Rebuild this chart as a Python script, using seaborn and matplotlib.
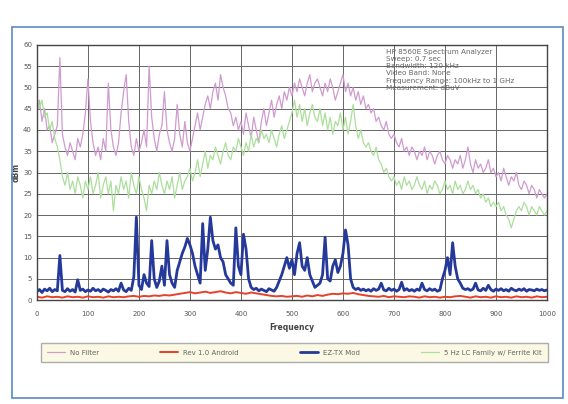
import seaborn as sns
import numpy as np
import pandas as pd
import matplotlib.pyplot as plt
from matplotlib.patches import Rectangle

# frequency axis (MHz)
freq_5 = np.arange(0, 1001, 5)
freq_10 = np.arange(0, 1001, 10)

no_filter = [
    44, 47, 42, 45, 40, 41, 37, 39, 41, 57,
    39, 36, 34, 37, 35, 33, 38, 36, 39, 44,
    52, 42, 37, 34, 36, 33, 38, 35, 51, 40,
    36, 34, 37, 44, 49, 53, 42, 36, 34, 38,
    35, 37, 40, 36, 55, 43, 38, 35, 39, 41,
    49, 40, 37, 35, 38, 46, 39, 36, 42, 37,
    35, 38, 41, 44, 40, 43, 46, 48, 45, 49,
    51, 47, 53, 50, 48, 45, 44, 41, 43, 40,
    42, 39, 44, 41, 38, 43, 40, 37, 42, 45,
    41, 44, 47, 43, 46, 48, 45, 49, 47, 50,
    48, 51, 49, 52, 50, 48, 51, 53, 49, 51,
    52, 50, 48, 51, 49, 52, 50, 47, 49, 51,
    53, 49, 51, 48, 50, 47, 49, 46, 48, 45,
    46, 44, 45, 42, 43, 41, 40, 42, 39, 38,
    39, 37, 36, 38, 35, 36, 34, 36, 35, 33,
    35, 34, 36, 33, 35, 34, 32, 34, 35, 33,
    32, 34, 33, 31, 33, 32, 34, 31, 33, 36,
    32, 30, 33, 31, 32, 30, 31, 33, 30, 31,
    29, 30, 28, 31, 29, 27, 29, 28, 30, 27,
    26, 28, 27, 25, 27, 26, 24, 26, 25, 24,
    25,
]

lc_family = [
    48, 45, 47, 43, 44, 40, 42, 38, 36, 33,
    29, 27, 30, 26, 28, 25, 29, 27, 24, 28,
    26, 29, 25, 27, 30, 24, 27, 29, 25, 28,
    21, 27, 25, 29, 26, 28, 24, 30, 27, 25,
    29, 26, 24, 21, 27, 25, 28, 26, 30, 27,
    25, 28, 26, 29, 24, 27, 30, 26, 28, 29,
    31, 28, 30, 33, 29, 32, 35, 31, 34, 33,
    36, 34, 32, 35, 37, 34, 33, 36, 35, 38,
    36, 34, 37, 35, 39, 36, 38, 37, 40, 38,
    39, 37, 40, 38, 36, 39, 41, 38, 40, 42,
    44, 47, 43, 46, 42, 45, 41, 44, 46, 43,
    42, 45, 41, 44, 40, 43, 39, 42, 41, 44,
    40, 43, 39, 42, 46, 41, 38, 40, 37, 36,
    37, 35, 34, 36, 33, 32, 30, 31, 29, 28,
    29, 27, 28, 26, 29, 27, 28, 26, 27, 29,
    27, 26, 28, 25, 27, 26, 28, 27, 25, 26,
    28, 26, 27, 25, 28, 26, 27, 25, 26, 28,
    26, 27, 25, 26, 24, 25, 23, 24, 22, 23,
    22, 23, 21, 22, 20, 19, 17, 19, 21, 22,
    21, 23, 22, 20, 22, 21, 20, 22, 21, 20,
    21,
]

ez_mod = [
    2.0, 2.5, 1.8, 2.6, 2.2, 2.8, 2.0, 2.5, 2.2, 10.5,
    2.3, 2.0, 2.7, 2.1, 2.5, 1.9, 4.8, 2.3, 2.6, 2.0,
    2.4, 2.1, 2.8, 2.2, 2.5, 2.0, 2.6, 2.3, 1.9, 2.5,
    2.2, 2.7, 2.1, 4.0, 2.4, 2.0, 2.8, 2.3, 5.5, 19.5,
    3.5, 2.5, 6.0, 4.0, 3.2, 14.0, 5.0, 3.0, 4.5, 8.0,
    3.5, 14.0, 6.0, 4.0, 3.0, 7.0, 9.0, 11.0, 12.5, 14.5,
    13.0, 11.0, 8.0, 6.0, 4.0, 18.0, 7.0, 12.0, 19.5, 14.0,
    12.0, 13.0, 10.0, 9.0, 6.0, 5.0, 4.0, 3.5, 17.0, 8.0,
    6.0, 15.5, 12.0, 5.0, 3.0, 2.5, 2.8, 2.2, 2.6, 2.3,
    2.0, 2.7, 2.4, 2.1, 3.0, 4.5, 6.0, 8.0, 10.0, 7.5,
    9.5, 6.0, 11.0, 13.5, 8.0, 7.0, 10.0, 6.0, 4.5, 3.0,
    3.5, 4.0, 6.0, 14.8, 5.0, 4.5, 8.0, 9.5, 6.5, 8.0,
    11.0, 16.5, 13.0, 5.0, 3.0, 2.5, 2.8, 2.3, 2.6, 2.2,
    2.5, 2.1, 2.7, 2.3, 2.6, 4.0, 2.4, 2.2, 2.8, 2.3,
    2.6, 2.1, 2.5, 4.2, 2.3, 2.7, 2.2, 2.5, 2.1, 2.6,
    2.3, 4.0, 2.5, 2.2, 2.7, 2.3, 2.6, 2.1, 2.4, 5.0,
    7.0, 10.0, 6.0, 13.5, 8.0, 5.0, 4.0, 2.8, 2.5, 2.7,
    2.3, 2.6, 4.0, 2.4, 2.2, 2.8, 2.3, 3.5, 2.5, 2.1,
    2.6, 2.3, 2.7, 2.2, 2.5, 2.1, 2.8, 2.4, 2.2, 2.6,
    2.3, 2.7, 2.1, 2.5, 2.4, 2.2, 2.6, 2.3, 2.5, 2.2,
    2.4,
]

rev1 = [
    0.8, 0.6, 0.9, 0.7, 0.8, 0.6, 0.9, 0.7, 0.8, 0.6,
    0.9, 0.7, 0.8, 0.6, 0.9, 0.7, 0.8, 0.7, 0.9, 1.0,
    0.8, 1.0, 0.9, 1.1, 1.0, 1.2, 1.1, 1.3, 1.5, 1.7,
    1.9, 1.6, 1.8, 2.0, 1.7, 1.9, 2.1, 1.8, 1.6, 1.9,
    1.7, 1.5, 1.8, 1.6, 1.4, 1.2, 1.0, 0.9, 1.0, 0.8,
    0.9, 1.0, 0.8, 1.1, 0.9, 1.2, 1.0, 1.3, 1.5, 1.4,
    1.6, 1.5, 1.7, 1.4, 1.2, 1.0, 0.9, 0.8, 1.0, 0.7,
    0.9, 0.8, 0.7, 0.9, 0.8, 0.6, 0.9, 0.7, 0.8, 0.6,
    0.8, 0.7, 0.9, 1.0, 0.8, 0.6, 0.9, 0.7, 0.8, 0.6,
    0.9, 0.7, 0.8, 0.6, 0.9, 0.7, 0.8, 0.6, 0.9, 0.7,
    0.8,
]

series_names = ["No Filter", "Rev 1.0 Android", "EZ-TX Mod", "5 Hz LC Family w/ Ferrite Kit"]
info_text = ("HP 8560E Spectrum Analyzer\nSweep: 0.7 sec\nBandwidth: 120 kHz\n"
             "Video Band: None\nFrequency Range: 100kHz to 1 GHz\nMeasurement: dBuV")

sns.set_style("white")
fig = plt.figure(figsize=(5.68, 4.04), dpi=100)
ax = fig.add_axes([0.065, 0.257, 0.898, 0.632])

sns.lineplot(x=freq_5, y=no_filter, ax=ax, color="#cf9bd0", lw=0.9, label=series_names[0])
sns.lineplot(x=freq_5, y=lc_family, ax=ax, color="#acdf9c", lw=0.9, label=series_names[3])
sns.lineplot(x=freq_5, y=ez_mod, ax=ax, color="#25399a", lw=2.0, label=series_names[2])
sns.lineplot(x=freq_10, y=rev1, ax=ax, color="#e8402a", lw=1.4, label=series_names[1])

ax.set_xlim(0, 1000)
ax.set_ylim(0, 60)
ax.set_xticks(np.arange(0, 1001, 100))
ax.set_yticks(np.arange(0, 61, 5))
ax.grid(True, color="#666666", lw=0.7)
ax.tick_params(labelsize=5, colors="#555555", length=0)
ax.tick_params(axis="x", pad=8)
for s in ax.spines.values():
    s.set_color("#444444")
    s.set_linewidth(1.0)
ax.set_xlabel("Frequency", fontsize=5.5, fontweight="bold", color="#444444", labelpad=4)
ax.set_ylabel("dBm", fontsize=5.5, fontweight="bold", color="#444444", labelpad=2)

ax.text(0.685, 0.985, info_text, transform=ax.transAxes, fontsize=5.2, color="#666666",
        va="top", ha="left", linespacing=1.25)

handles, labels = ax.get_legend_handles_labels()
order = [labels.index(n) for n in series_names]
ax.get_legend().remove()
leg = fig.legend([handles[i] for i in order], [labels[i] for i in order],
                 loc="lower left", bbox_to_anchor=(0.072, 0.104, 0.893, 0.046),
                 mode="expand", ncol=4, fontsize=5, frameon=True, fancybox=False,
                 handlelength=2.5, borderaxespad=0, borderpad=0.9)
leg.get_frame().set_facecolor("#fbf8dc")
leg.get_frame().set_edgecolor("#999999")
for t in leg.get_texts():
    t.set_color("#666666")

fig.patches.append(Rectangle((0.021, 0.015), 0.97, 0.918, transform=fig.transFigure,
                             fill=False, edgecolor="#5a8ac8", lw=1.2))

fig.savefig("out.png", dpi=100)
